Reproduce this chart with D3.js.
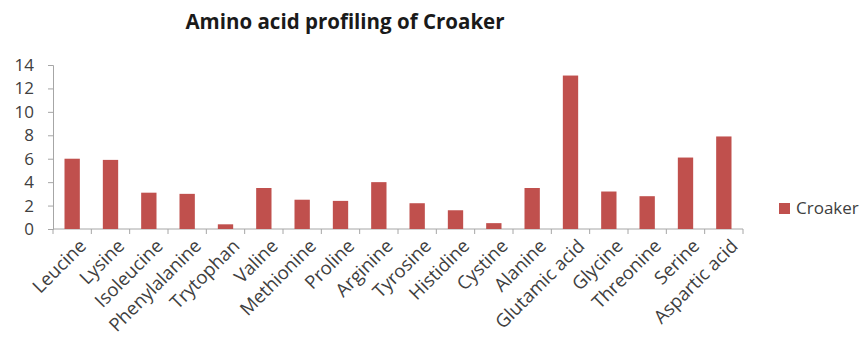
<!DOCTYPE html>
<html>
<head>
<meta charset="utf-8">
<script src="https://cdnjs.cloudflare.com/ajax/libs/d3/7.8.5/d3.min.js"></script>
<style>
  body { margin: 0; background: #fff; }
  text { font-family: "Open Sans", "DejaVu Sans", sans-serif; }
</style>
</head>
<body>
<div id="chart-area"></div>
<script>
const categories = ["Leucine", "Lysine", "Isoleucine", "Phenylalanine", "Trytophan", "Valine",
  "Methionine", "Proline", "Arginine", "Tyrosine", "Histidine", "Cystine", "Alanine",
  "Glutamic acid", "Glycine", "Threonine", "Serine", "Aspartic acid"]
const croaker = [6.0, 5.9, 3.1, 3.0, 0.4, 3.5, 2.5, 2.4, 4.0, 2.2, 1.6, 0.5, 3.5, 13.1, 3.2, 2.8, 6.1, 7.9]
const yTicks = [0, 2, 4, 6, 8, 10, 12, 14]
const seriesName = "Croaker"

const W = 865, H = 347
const MARGIN = { LEFT: 53, TOP: 65 }
const PLOT_W = 690, PLOT_H = 164

const svg = d3.select("#chart-area").append("svg")
  .attr("width", W)
  .attr("height", H)

// Title
svg.append("text")
  .attr("x", 345)
  .attr("y", 29)
  .attr("text-anchor", "middle")
  .style("font-size", "20.5px")
  .style("font-weight", "bold")
  .attr("fill", "#1a1a1a")
  .text("Amino acid profiling of Croaker")

const g = svg.append("g")
  .attr("transform", `translate(${MARGIN.LEFT}, ${MARGIN.TOP})`)

const x = d3.scaleBand()
  .domain(categories)
  .range([0, PLOT_W])
  .paddingInner(0.6)
  .paddingOuter(0.3)

const y = d3.scaleLinear()
  .domain([0, 14])
  .range([PLOT_H, 0])

// Y axis
const yAxis = g.append("g")
  .call(d3.axisLeft(y).tickValues(yTicks).tickSize(5).tickPadding(14))
yAxis.selectAll("line, path").attr("stroke", "#a6a6a6")
yAxis.selectAll("text")
  .style("font-size", "17px")
  .attr("fill", "#404040")

// X axis: ticks on band boundaries
const xAxis = g.append("g")
  .attr("transform", `translate(0, ${PLOT_H})`)
xAxis.append("line")
  .attr("x1", 0).attr("x2", PLOT_W)
  .attr("stroke", "#a6a6a6")
const bounds = d3.range(categories.length + 1).map(i => i * PLOT_W / categories.length)
xAxis.selectAll(".tk").data(bounds).enter().append("line")
  .attr("x1", d => d).attr("x2", d => d)
  .attr("y1", 0).attr("y2", 5)
  .attr("stroke", "#a6a6a6")
xAxis.selectAll(".lbl").data(categories).enter().append("text")
  .attr("transform", d => `translate(${x(d) + x.bandwidth() / 2 + 6}, 9) rotate(-45)`)
  .attr("text-anchor", "end")
  .attr("dy", "0.7em")
  .style("font-size", "18.5px")
  .attr("fill", "#404040")
  .text(d => d)

// Bars
g.selectAll("rect.bar")
  .data(categories.map((c, i) => ({ c, v: croaker[i] })))
  .enter().append("rect")
  .attr("class", "bar")
  .attr("x", d => x(d.c))
  .attr("width", x.bandwidth())
  .attr("y", d => y(d.v))
  .attr("height", d => PLOT_H - y(d.v))
  .attr("fill", "#c0504d")

// Legend
const legend = svg.append("g")
  .attr("transform", "translate(779, 203)")
legend.append("rect")
  .attr("width", 11).attr("height", 11)
  .attr("fill", "#c0504d")
legend.append("text")
  .attr("x", 17).attr("y", 11)
  .style("font-size", "17px")
  .attr("fill", "#404040")
  .text(seriesName)
</script>
</body>
</html>
